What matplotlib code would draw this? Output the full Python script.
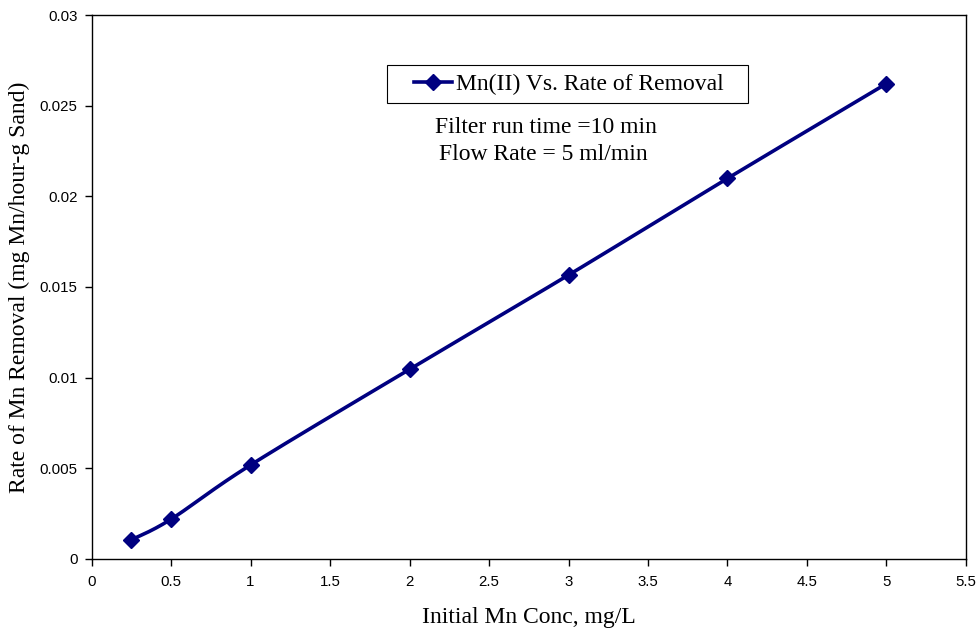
import numpy as np
import matplotlib
matplotlib.use("Agg")
import matplotlib.pyplot as plt
from matplotlib.patches import Rectangle

# 数据
conc = [0.25, 0.5, 1, 2, 3, 4, 5]
rate = [0.00105, 0.00219, 0.00518, 0.01046, 0.01566, 0.02099, 0.02622]
x_ticks = [0, 0.5, 1, 1.5, 2, 2.5, 3, 3.5, 4, 4.5, 5, 5.5]
y_ticks = [0, 0.005, 0.01, 0.015, 0.02, 0.025, 0.03]


def smooth_curve(x, y, n=40):
    """Catmull-Rom 平滑曲线（类似 Excel 的平滑线）"""
    p = np.column_stack([x, y]).astype(float)
    p = np.vstack([p[0], p, p[-1]])
    out = []
    t = np.linspace(0, 1, n)[:, None]
    for i in range(1, len(p) - 2):
        p0, p1, p2, p3 = p[i - 1], p[i], p[i + 1], p[i + 2]
        seg = 0.5 * ((2 * p1) + (-p0 + p2) * t
                     + (2 * p0 - 5 * p1 + 4 * p2 - p3) * t ** 2
                     + (-p0 + 3 * p1 - 3 * p2 + p3) * t ** 3)
        out.append(seg)
    out = np.vstack(out)
    return out[:, 0], out[:, 1]


fig = plt.figure(figsize=(9.79, 6.28), dpi=100)
ax = fig.add_axes([0.0935, 0.110, 0.8932, 0.866])

color = '#000080'
serif = 'Liberation Serif'
sx, sy = smooth_curve(conc, rate)
ax.plot(sx, sy, color=color, linewidth=2.6, solid_capstyle='round')
ax.plot(conc, rate, linestyle='none', marker='D', markersize=8.5, color=color)
# 图例用的代理线
ax.plot([], [], color=color, linewidth=2.6, marker='D', markersize=8.5,
        label='Mn(II) Vs. Rate of Removal')

ax.set_xlim(0, 5.5)
ax.set_ylim(0, 0.03)
ax.set_xticks(x_ticks)
ax.set_xticklabels([f'{v:g}' for v in x_ticks])
ax.set_yticks(y_ticks)
ax.set_yticklabels([f'{v:g}' for v in y_ticks])
ax.tick_params(direction='out', length=5, width=1, labelsize=10.8,
               labelfontfamily='Liberation Sans', pad=5)
ax.tick_params(axis='x', pad=6.5)

for s in ax.spines.values():
    s.set_linewidth(1)
    s.set_color('black')

ax.set_xlabel('Initial Mn Conc, mg/L', fontfamily=serif,
              fontsize=17, labelpad=13)
ax.set_ylabel('Rate of Mn Removal (mg Mn/hour-g Sand)',
              fontfamily=serif, fontsize=17, labelpad=7)

# 图例框
ax.add_patch(Rectangle((0.338, 0.838), 0.413, 0.070, transform=ax.transAxes,
                       facecolor='white', edgecolor='black', linewidth=0.8,
                       zorder=4))
leg = ax.legend(loc='center', bbox_to_anchor=(0.546, 0.873),
                prop={'family': serif, 'size': 17}, frameon=False,
                handlelength=1.6, handletextpad=0.2, borderpad=0.2)
leg.set_zorder(5)

ax.text(0.52, 0.793, 'Filter run time =10 min', transform=ax.transAxes,
        ha='center', va='center', fontfamily=serif, fontsize=17)
ax.text(0.517, 0.743, 'Flow Rate = 5 ml/min', transform=ax.transAxes,
        ha='center', va='center', fontfamily=serif, fontsize=17)

fig.savefig('out.png', dpi=100)
